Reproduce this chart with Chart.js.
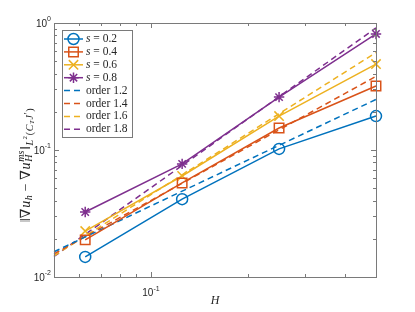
<!DOCTYPE html>
<html>
<head>
<meta charset="utf-8">
<script src="https://cdn.jsdelivr.net/npm/chart.js@4.4.1/dist/chart.umd.min.js"></script>
<style>
body{margin:0;background:#fff;}
canvas{display:block;}
</style>
</head>
<body>
<canvas id="grafico" width="415" height="312"></canvas>
<script>
// -------- DADOS
const H = [1/16, 1/8, 1/4, 1/2];
const s02 = [0.0144, 0.041, 0.102, 0.185];
const s04 = [0.0196, 0.055, 0.149, 0.319];
const s06 = [0.023, 0.0624, 0.185, 0.475];
const s08 = [0.0325, 0.0777, 0.261, 0.82];

const Hord = [0.05, 0.5];
const ord12 = [0.0158, 0.25];
const ord14 = [0.0152, 0.38];
const ord16 = [0.0147, 0.585];
const ord18 = [0.0145, 0.915];

const sLabels = ["0.2", "0.4", "0.6", "0.8"];
const ordLabels = ["order 1.2", "order 1.4", "order 1.6", "order 1.8"];

const xTicks = [0.06, 0.07, 0.08, 0.09, 0.1, 0.2, 0.3, 0.4];
const yTicks = [0.02,0.03,0.04,0.05,0.06,0.07,0.08,0.09,0.1,0.2,0.3,0.4,0.5,0.6,0.7,0.8,0.9];
const xLabelTicks = [[0.1, "-1"]];
const yLabelTicks = [[0.01, "-2"], [0.1, "-1"], [1, "0"]];

const cores = ["#0072BD", "#D95319", "#EDB120", "#7E2F8E"];
const marcas = ["circle", "rect", "crossRot", "star"];
const raios = [5.5, 6.7, 6.6, 5.2];

function pts(xs, ys){ return xs.map((x,i)=>({x:x, y:ys[i]})); }

const sSeries = [s02, s04, s06, s08];
const ordSeries = [ord12, ord14, ord16, ord18];

let datasets = [];
sSeries.forEach((d,i) => {
datasets.push({
data: pts(H, d),
borderColor: cores[i],
backgroundColor: "rgba(0,0,0,0)",
borderWidth: 1.5,
pointStyle: marcas[i],
pointRadius: raios[i],
pointBorderWidth: 1.5,
pointBorderColor: cores[i],
pointBackgroundColor: "rgba(0,0,0,0)",
clip: false
});
});
ordSeries.forEach((d,i) => {
datasets.push({
data: pts(Hord, d),
borderColor: cores[i],
borderWidth: 1.5,
borderDash: [6,4],
pointRadius: 0,
clip: false
});
});

const TXT = "#262626";
const SERIF = '"Liberation Serif", "DejaVu Serif", serif';
const SANS = '"Liberation Sans", Arial, sans-serif';

// -------- MOLDURA, TICKS, TEXTOS, LEGENDA
const moldura = {
id: "moldura",
afterDraw(chart){
const ctx = chart.ctx;
const a = chart.chartArea;
const xs = chart.scales.x, ys = chart.scales.y;
ctx.save();

// caixa
ctx.strokeStyle = "#7a7a7a";
ctx.lineWidth = 1;
ctx.strokeRect(Math.round(a.left)+0.5, Math.round(a.top)+0.5, Math.round(a.right-a.left), Math.round(a.bottom-a.top));

// ticks
ctx.beginPath();
xTicks.forEach(v => {
const px = Math.round(xs.getPixelForValue(v))+0.5;
const len = (v === 0.1) ? 5 : 3;
ctx.moveTo(px, a.bottom); ctx.lineTo(px, a.bottom-len);
ctx.moveTo(px, a.top); ctx.lineTo(px, a.top+len);
});
yTicks.forEach(v => {
const py = Math.round(ys.getPixelForValue(v))+0.5;
const len = (v === 0.1) ? 5 : 3;
ctx.moveTo(a.left, py); ctx.lineTo(a.left+len, py);
ctx.moveTo(a.right, py); ctx.lineTo(a.right-len, py);
});
ctx.stroke();

// rotulos dos ticks
ctx.fillStyle = TXT;
ctx.textBaseline = "middle";
yLabelTicks.forEach(t => {
const py = ys.getPixelForValue(t[0]);
ctx.font = "7px " + SANS;
const we = ctx.measureText(t[1]).width;
ctx.font = "10px " + SANS;
const wb = ctx.measureText("10").width;
const xr = a.left - 3;
ctx.textAlign = "left";
ctx.fillText("10", xr - we - wb, py + 1);
ctx.font = "7px " + SANS;
ctx.fillText(t[1], xr - we, py - 4);
});
xLabelTicks.forEach(t => {
const px = xs.getPixelForValue(t[0]);
ctx.font = "7px " + SANS;
const we = ctx.measureText(t[1]).width;
ctx.font = "10px " + SANS;
const wb = ctx.measureText("10").width;
const x0 = px - (wb + we)/2;
ctx.textAlign = "left";
ctx.fillText("10", x0, a.bottom + 16);
ctx.font = "7px " + SANS;
ctx.fillText(t[1], x0 + wb, a.bottom + 12);
});

// titulo x
ctx.font = "italic 12px " + SERIF;
ctx.textAlign = "center";
ctx.fillText("H", (a.left+a.right)/2, 301);

// titulo y
const partes = [
{t:"‖∇", f:"14px "+SERIF, dy:0},
{t:"u", f:"italic 14px "+SERIF, dy:0},
{t:"h", f:"italic 10px "+SERIF, dy:3},
{t:" − ∇", f:"14px "+SERIF, dy:0},
{t:"u", f:"italic 14px "+SERIF, dy:0},
{t:"H", f:"italic 10px "+SERIF, dy:3, sup:"ms"},
{t:"‖", f:"14px "+SERIF, dy:0},
{t:"L", f:"italic 10px "+SERIF, dy:4},
{t:"2", f:"7px "+SERIF, dy:-1},
{t:"(", f:"10px "+SERIF, dy:4},
{t:"C", f:"italic 10px "+SERIF, dy:4},
{t:"T", f:"italic 7px "+SERIF, dy:6},
{t:"J", f:"italic 10px "+SERIF, dy:4},
{t:"′", f:"10px "+SERIF, dy:2},
{t:")", f:"10px "+SERIF, dy:4}
];
let total = 0;
partes.forEach(p => {
ctx.font = p.f;
let w = ctx.measureText(p.t).width;
if(p.sup){ ctx.font = "italic 10px "+SERIF; w = Math.max(w, ctx.measureText(p.sup).width); }
p.w = w + 0.6;
total += p.w;
});
ctx.translate(26, 165);
ctx.rotate(-Math.PI/2);
ctx.textAlign = "left";
ctx.textBaseline = "middle";
let cx = -total/2;
partes.forEach(p => {
ctx.font = p.f;
ctx.fillText(p.t, cx, p.dy);
if(p.sup){ ctx.font = "italic 10px "+SERIF; ctx.fillText(p.sup, cx, -5); }
cx += p.w;
});
ctx.setTransform(1,0,0,1,0,0);

// legenda
const lx = 62, ly = 30, lw = 70, lh = 107;
ctx.fillStyle = "#fff";
ctx.fillRect(lx, ly, lw, lh);
ctx.strokeStyle = "#7a7a7a";
ctx.lineWidth = 1;
ctx.strokeRect(lx+0.5, ly+0.5, lw, lh);
const passo = 12.9;
for(let i=0;i<8;i++){
const y = 39 + i*passo;
const c = cores[i%4];
ctx.strokeStyle = c;
ctx.lineWidth = 1.5;
ctx.beginPath();
if(i >= 4) ctx.setLineDash([6,4]); else ctx.setLineDash([]);
ctx.moveTo(64, y); ctx.lineTo(83, y);
ctx.stroke();
ctx.setLineDash([]);
if(i < 4){
ctx.fillStyle = "rgba(0,0,0,0)";
Chart.helpers.drawPoint(ctx, {pointStyle: marcas[i], radius: raios[i], rotation: 0, borderWidth: 1.5}, 73.5, y);
}
ctx.fillStyle = TXT;
ctx.textAlign = "left";
ctx.textBaseline = "middle";
if(i < 4){
ctx.font = "italic 11.5px " + SERIF;
ctx.fillText("s", 86, y);
const ws = ctx.measureText("s").width;
ctx.font = "11.5px " + SERIF;
ctx.fillText(" = " + sLabels[i], 86 + ws, y);
} else {
ctx.font = "11.5px " + SERIF;
ctx.fillText(ordLabels[i-4], 86, y);
}
}
ctx.restore();
}
};

new Chart(
document.getElementById("grafico"),
{
type: "line",
data: { datasets: datasets },
options: {
responsive: false,
devicePixelRatio: 1,
animation: false,
layout: { padding: { left: 0, top: 23, right: 39, bottom: 0 } },
plugins: { legend: { display: false }, tooltip: { enabled: false } },
scales: {
x: {
type: "logarithmic", min: 0.05, max: 0.5,
ticks: { display: false }, grid: { display: false }, border: { display: false },
afterFit: s => { s.height = 35; }
},
y: {
type: "logarithmic", min: 0.01, max: 1,
ticks: { display: false }, grid: { display: false }, border: { display: false },
afterFit: s => { s.width = 54; }
}
}
},
plugins: [moldura]
}
);
</script>
</body>
</html>
